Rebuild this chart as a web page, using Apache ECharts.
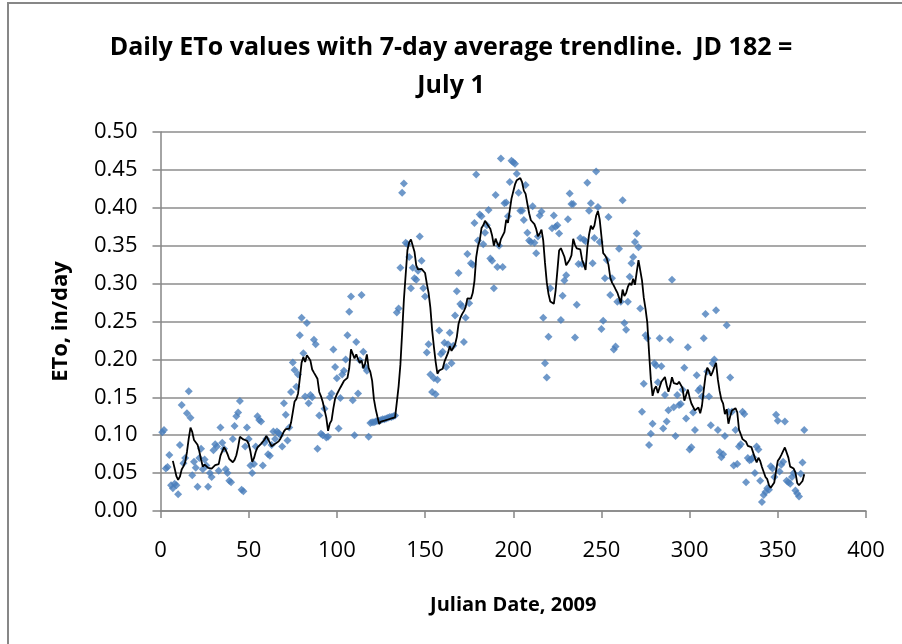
<!DOCTYPE html>
<html>
<head>
<meta charset="utf-8">
<script src="https://cdn.jsdelivr.net/npm/echarts@6/dist/echarts.min.js"></script>
<style>
  html, body { margin: 0; padding: 0; background: #fff; }
  #main { width: 902px; height: 644px; }
</style>
</head>
<body>
<div id="main"></div>
<script>
// daily ETo (in/day), Julian day 1..365, 2009
var eto = [
  0.104, 0.107, 0.056, 0.058, 0.074, 0.034, 0.030, 0.036, 0.034, 0.022,
  0.087, 0.140, 0.063, 0.070, 0.129, 0.158, 0.123, 0.047, 0.065, 0.057,
  0.032, 0.070, 0.082, 0.055, 0.068, 0.060, 0.032, 0.050, 0.045, 0.080,
  0.088, 0.085, 0.053, 0.110, 0.090, 0.082, 0.055, 0.050, 0.040, 0.038,
  0.095, 0.112, 0.125, 0.130, 0.145, 0.028, 0.026, 0.085, 0.110, 0.095,
  0.060, 0.050, 0.062, 0.085, 0.125, 0.120, 0.118, 0.060, 0.090, 0.095,
  0.075, 0.073, 0.087, 0.105, 0.095, 0.105, 0.103, 0.100, 0.085, 0.142,
  0.127, 0.093, 0.110, 0.157, 0.196, 0.186, 0.164, 0.180, 0.232, 0.255,
  0.208, 0.151, 0.248, 0.142, 0.153, 0.150, 0.226, 0.220, 0.082, 0.126,
  0.102, 0.100, 0.135, 0.097, 0.098, 0.150, 0.155, 0.213, 0.190, 0.175,
  0.109, 0.149, 0.180, 0.185, 0.200, 0.232, 0.263, 0.283, 0.146, 0.100,
  0.223, 0.155, 0.199, 0.285, 0.210, 0.190, 0.185, 0.098, 0.116, 0.117,
  0.117, 0.118, 0.119, 0.119, 0.120, 0.121, 0.121, 0.122, 0.123, 0.124,
  0.124, 0.125, 0.126, 0.262, 0.267, 0.321, 0.420, 0.432, 0.354, 0.352,
  0.335, 0.294, 0.321, 0.307, 0.305, 0.317, 0.362, 0.330, 0.294, 0.283,
  0.209, 0.220, 0.180, 0.157, 0.175, 0.154, 0.173, 0.238, 0.207, 0.210,
  0.222, 0.190, 0.220, 0.235, 0.195, 0.218, 0.258, 0.290, 0.314, 0.273,
  0.270, 0.223, 0.255, 0.339, 0.274, 0.327, 0.325, 0.380, 0.444, 0.357,
  0.391, 0.389, 0.352, 0.367, 0.377, 0.397, 0.333, 0.330, 0.294, 0.417,
  0.322, 0.350, 0.465, 0.322, 0.406, 0.407, 0.389, 0.434, 0.462, 0.460,
  0.458, 0.445, 0.420, 0.396, 0.396, 0.384, 0.430, 0.367, 0.357, 0.355,
  0.402, 0.354, 0.340, 0.362, 0.390, 0.395, 0.255, 0.195, 0.176, 0.230,
  0.294, 0.373, 0.390, 0.375, 0.377, 0.366, 0.252, 0.284, 0.304, 0.311,
  0.385, 0.419, 0.405, 0.405, 0.229, 0.272, 0.326, 0.360, 0.326, 0.358,
  0.356, 0.433, 0.396, 0.406, 0.327, 0.360, 0.448, 0.401, 0.355, 0.240,
  0.251, 0.307, 0.331, 0.388, 0.285, 0.307, 0.213, 0.217, 0.276, 0.346,
  0.276, 0.410, 0.248, 0.239, 0.276, 0.309, 0.327, 0.335, 0.355, 0.366,
  0.348, 0.267, 0.131, 0.168, 0.232, 0.228, 0.087, 0.102, 0.115, 0.195,
  0.192, 0.170, 0.228, 0.191, 0.109, 0.153, 0.118, 0.133, 0.226, 0.305,
  0.137, 0.099, 0.153, 0.140, 0.141, 0.160, 0.189, 0.122, 0.216, 0.081,
  0.084, 0.130, 0.107, 0.179, 0.159, 0.162, 0.151, 0.228, 0.260, 0.184,
  0.151, 0.113, 0.195, 0.200, 0.265, 0.107, 0.078, 0.071, 0.075, 0.099,
  0.245, 0.131, 0.176, 0.131, 0.060, 0.107, 0.062, 0.085, 0.088, 0.131,
  0.128, 0.038, 0.070, 0.067, 0.068, 0.071, 0.050, 0.085, 0.081, 0.040,
  0.012, 0.021, 0.025, 0.030, 0.028, 0.059, 0.056, 0.045, 0.127, 0.119,
  0.052, 0.061, 0.065, 0.118, 0.040, 0.038, 0.036, 0.045, 0.050, 0.027,
  0.023, 0.019, 0.049, 0.064, 0.107
];
var firstDay = 1;
var period = 7;   // moving average window (days)

var chart = echarts.init(document.getElementById('main'));

var points = [];
var trend = [];
for (var i = 0; i < eto.length; i++) {
  points.push([firstDay + i, eto[i]]);
  if (i >= period - 1) {
    var s = 0;
    for (var k = i - period + 1; k <= i; k++) s += eto[k];
    trend.push([firstDay + i, s / period]);
  }
}

var font = '"Open Sans", "Liberation Sans", sans-serif';

var option = {
  backgroundColor: '#fff',
  animation: false,
  title: {
    text: 'Daily ETo values with 7-day average trendline.  JD 182 =\nJuly 1',
    left: 'center',
    top: 29,
    padding: 0,
    textStyle: {
      fontFamily: font,
      fontSize: 25,
      fontWeight: 'bold',
      color: '#000',
      lineHeight: 38
    }
  },
  graphic: [{
    // chart area border (only left and top edges are inside the picture)
    type: 'rect',
    silent: true,
    shape: { x: 8, y: 3, width: 1200, height: 1200 },
    style: { fill: 'none', stroke: '#878787', lineWidth: 2 }
  }],
  grid: {
    left: 160.5,
    right: 36,
    top: 132,
    bottom: 133
  },
  xAxis: {
    type: 'value',
    min: 0,
    max: 400,
    interval: 50,
    name: 'Julian Date, 2009',
    nameLocation: 'middle',
    nameGap: 84,
    nameTextStyle: { fontFamily: font, fontSize: 20, fontWeight: 'bold', color: '#000' },
    axisLine: { lineStyle: { color: '#868686', width: 1.5 } },
    axisTick: { show: true, length: 7, lineStyle: { color: '#868686', width: 1.5 } },
    axisLabel: { margin: 29, fontFamily: font, fontSize: 22, color: '#000' },
    splitLine: { show: false }
  },
  yAxis: {
    type: 'value',
    min: 0,
    max: 0.5,
    interval: 0.05,
    name: 'ETo, in/day',
    nameLocation: 'middle',
    nameRotate: 90,
    nameGap: 89,
    nameTextStyle: { fontFamily: font, fontSize: 22, fontWeight: 'bold', color: '#000' },
    axisLine: { show: true, lineStyle: { color: '#868686', width: 1.5 } },
    axisTick: { show: true, length: 8, lineStyle: { color: '#868686', width: 1.5 } },
    axisLabel: {
      margin: 23,
      fontFamily: font,
      fontSize: 22,
      color: '#000',
      formatter: function (v) { return v.toFixed(2); }
    },
    splitLine: { show: true, lineStyle: { color: '#8c8c8c', width: 1.5 } }
  },
  series: [
    {
      name: 'ETo',
      type: 'scatter',
      data: points,
      symbol: 'path://M0,-1 L1,0 L0,1 L-1,0 Z',
      symbolSize: 8,
      itemStyle: { color: '#4a7ebb' },
      z: 2
    },
    {
      name: '7 per. Mov. Avg.',
      type: 'line',
      data: trend,
      showSymbol: false,
      symbol: 'none',
      lineStyle: { color: '#000', width: 1.8 },
      z: 3
    }
  ]
};

chart.setOption(option);
</script>
</body>
</html>
